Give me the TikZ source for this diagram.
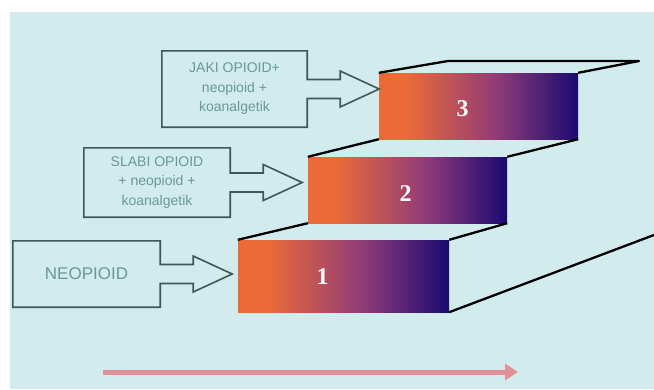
\documentclass[tikz,border=0pt]{standalone}
\usepackage{fontspec}
\setmainfont{Liberation Serif}
\newfontfamily\boxfont{Liberation Sans}
\usetikzlibrary{positioning,arrows.meta,calc}
\definecolor{panel}{HTML}{D2ECEE}
\definecolor{boxline}{HTML}{3E5858}
\definecolor{boxtext}{HTML}{6A9898}
\definecolor{stepor}{HTML}{EB6A38}
\definecolor{stepmid}{HTML}{8E3A78}
\definecolor{stepnavy}{HTML}{1A0A72}
\definecolor{arrowpink}{HTML}{E48E98}
\pgfdeclarehorizontalshading{stepshade}{100bp}{color(0bp)=(stepor); color(25bp)=(stepor); color(32bp)=(stepor); color(55bp)=(stepmid); color(75bp)=(stepnavy); color(100bp)=(stepnavy)}
\tikzset{
  stepfront/.style={shading=stepshade, inner sep=0pt, minimum width=199pt, minimum height=66pt},
  tread/.style={line width=2.3pt, line join=round},
  callbox/.style={inner sep=0pt, align=center, text=boxtext, font=\boxfont\fontsize{14}{19.5}\selectfont},
  calloutline/.style={draw=boxline, line width=1.6pt},
  stepnum/.style={text=white!92!pink, font=\fontsize{24}{24}\selectfont\bfseries}
}
\newcommand{\calloutpath}[1]{%
  \draw[calloutline] ($(#1.east)+(0,-9.5)$) |- (#1.north west) |- (#1.south east)
    -- ($(#1.east)+(0,9.5)$) -- ++(33,0) -- ++(0,8.5) -- ($(#1.east)+(72,0)$)
    -- ($(#1.east)+(33,-18)$) -- ++(0,8.5) -- cycle;}

\begin{document}
\begin{tikzpicture}[x=1pt,y=-1pt]
\useasboundingbox (0,0) rectangle (654,389);
\fill[panel] (10,12) rectangle (654,389);

% step fronts
\node[stepfront, minimum width=211pt, minimum height=72pt] (s1) at (343.5,276) {};
\node[stepfront] (s2) at (407.5,190) {};
\node[stepfront] (s3) at (478.5,106) {};
\node[stepnum] (n1) at ($(s1)+(-21,1)$) {1};
\node[stepnum] (n2) at ($(s2)+(-2,4)$) {2};
\node[stepnum] (n3) at ($(s3)+(-16,3)$) {3};

% treads
\coordinate (back3) at (448,61);
\coordinate (back3r) at (639,61);
\coordinate (floor) at (654,235);
\draw[tread] (s1.north west) -- (s2.south west);
\draw[tread] (s1.north east) -- (s2.south east);
\draw[tread] (s2.north west) -- (s3.south west);
\draw[tread] (s2.north east) -- (s3.south east);
\draw[tread] (s3.north west) -- (back3) -- (back3r) -- (s3.north east);
\draw[tread] (s1.south east) -- (floor);

% callouts
\node[callbox, minimum width=145pt, minimum height=76pt] (jaki) at (234.5,89) {JAKI OPIOID+\\neopioid +\\koanalgetik};
\node[callbox, minimum width=146pt, minimum height=69pt] (slabi) at (157,182.5) {SLABI OPIOID\\+ neopioid +\\koanalgetik};
\node[callbox, minimum width=147pt, minimum height=66pt, font=\boxfont\fontsize{17}{20}\selectfont] (neo) at (86.5,274) {NEOPIOID};
\calloutpath{jaki}
\calloutpath{slabi}
\calloutpath{neo}

% bottom arrow
\coordinate (a0) at (103,372);
\coordinate (a1) at (518,372);
\draw[arrowpink, line width=5pt, -{Triangle[length=13pt,width=16pt]}] (a0) -- (a1);
\end{tikzpicture}
\end{document}
